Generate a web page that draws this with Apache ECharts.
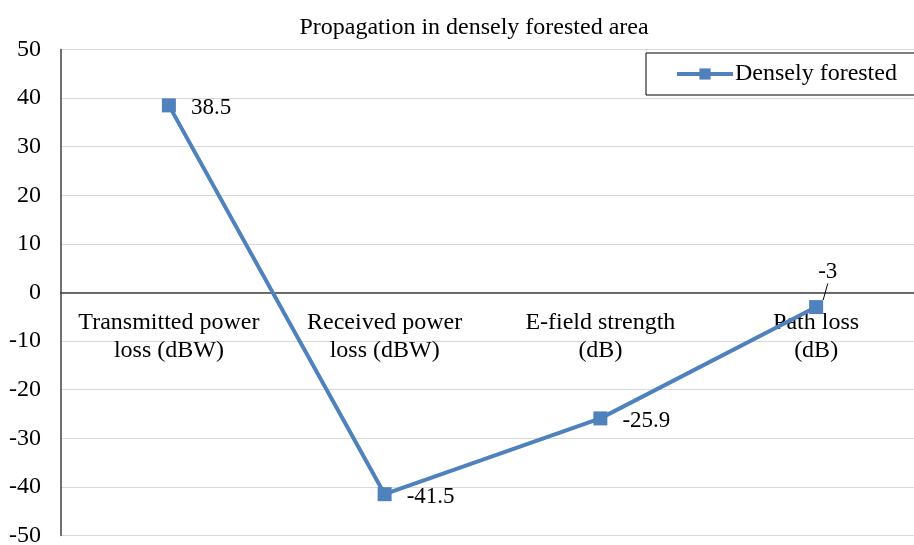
<!DOCTYPE html>
<html>
<head>
<meta charset="utf-8">
<script src="https://cdn.jsdelivr.net/npm/echarts@6/dist/echarts.min.js"></script>
<style>
  html, body { margin: 0; padding: 0; background: #fff; }
  #chart { width: 914px; height: 545px; }
</style>
</head>
<body>
<div id="chart"></div>
<script>
// Propagation measurements for a densely forested path
const categories = [
  'Transmitted power\nloss (dBW)',
  'Received power\nloss (dBW)',
  'E-field strength\n(dB)',
  'Path loss\n(dB)'
];
const seriesName = 'Densely forested';
const values = [38.5, -41.5, -25.9, -3];
const yTicks = { min: -50, max: 50, interval: 10 };

const FONT = '"Liberation Serif", "Times New Roman", serif';
const FS = 23;
const chart = echarts.init(document.getElementById('chart'));

// The last point's label sits above it, tied back with a short leader line
const seriesData = values.map(function (v, i) {
  if (i === values.length - 1) {
    return { value: v, labelLine: { show: true } };
  }
  return v;
});

chart.setOption({
  animation: false,
  textStyle: { fontFamily: FONT },
  title: {
    text: 'Propagation in densely forested area',
    left: 469,
    textAlign: 'center',
    top: 11,
    textStyle: { fontFamily: FONT, fontSize: 24, fontWeight: 'normal', color: '#000' }
  },
  legend: {
    data: [seriesName],
    left: 646,
    top: 53,
    padding: [9, 18, 9, 29],
    itemGap: 0,
    itemWidth: 56,
    itemHeight: 14,
    borderColor: '#000',
    borderWidth: 1,
    backgroundColor: '#fff',
    lineStyle: { width: 4 },
    textStyle: { fontFamily: FONT, fontSize: 24, color: '#000', padding: [0, 0, 0, -3] }
  },
  grid: {
    left: 61, right: -10, top: 49.5, bottom: 9.5,
    containLabel: false,
    outerBoundsMode: 'none'
  },
  xAxis: {
    type: 'category',
    data: categories,
    boundaryGap: true,
    axisLine: { onZero: true, lineStyle: { color: '#404040', width: 1.5 } },
    axisTick: { show: false },
    axisLabel: {
      fontFamily: FONT, fontSize: 24, color: '#000',
      // category names sit just under the zero line, not at the plot's bottom
      margin: -227,
      lineHeight: 28, interval: 0
    },
    splitLine: { show: false }
  },
  yAxis: {
    type: 'value',
    min: yTicks.min,
    max: yTicks.max,
    interval: yTicks.interval,
    axisLine: { show: true, lineStyle: { color: '#404040', width: 1.5 } },
    axisTick: { show: false },
    axisLabel: { fontFamily: FONT, fontSize: 24, color: '#000', margin: 20 },
    splitLine: { lineStyle: { color: '#d9d9d9', width: 1 } }
  },
  series: [{
    name: seriesName,
    type: 'line',
    data: seriesData,
    symbol: 'rect',
    symbolSize: 14,
    lineStyle: { color: '#4f81bd', width: 4 },
    itemStyle: { color: '#4f81bd' },
    label: {
      show: true,
      position: 'right',
      distance: 15,
      fontFamily: FONT,
      fontSize: FS,
      color: '#000'
    },
    labelLine: { show: false, lineStyle: { color: '#000', width: 1 } },
    labelLayout: function (params) {
      if (params.dataIndex === values.length - 1) {
        return { dx: -20, dy: -35 };
      }
      return { dy: 3 };
    }
  }]
});
</script>
</body>
</html>
